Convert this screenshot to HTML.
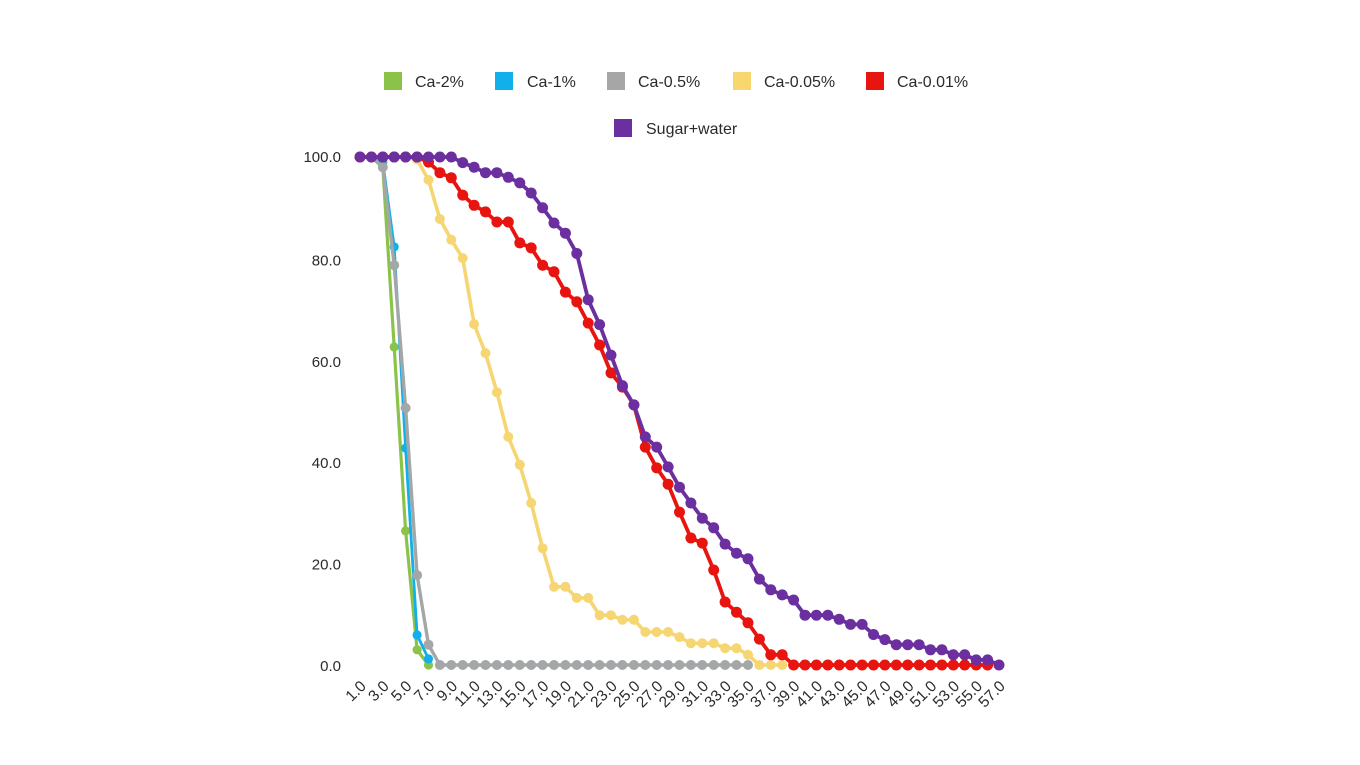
<!DOCTYPE html>
<html>
<head>
<meta charset="utf-8">
<style>
  html,body{margin:0;padding:0;background:#fff;}
  svg{display:block;}
  text{font-family:"Liberation Sans",Arial,sans-serif;fill:#2a2a2a;}
</style>
</head>
<body>
<svg width="1360" height="765" viewBox="0 0 1360 765" xmlns="http://www.w3.org/2000/svg">
  <defs>
    <marker id="mg" markerWidth="12" markerHeight="12" refX="6" refY="6" markerUnits="userSpaceOnUse"><circle cx="6" cy="6" r="4.6" fill="#8bc34a"/></marker>
    <marker id="mb" markerWidth="12" markerHeight="12" refX="6" refY="6" markerUnits="userSpaceOnUse"><circle cx="6" cy="6" r="4.6" fill="#12b0ea"/></marker>
    <marker id="ma" markerWidth="12" markerHeight="12" refX="6" refY="6" markerUnits="userSpaceOnUse"><circle cx="6" cy="6" r="5" fill="#a3a7a8"/></marker>
    <marker id="my" markerWidth="12" markerHeight="12" refX="6" refY="6" markerUnits="userSpaceOnUse"><circle cx="6" cy="6" r="5" fill="#f6d672"/></marker>
    <marker id="mr" markerWidth="12" markerHeight="12" refX="6" refY="6" markerUnits="userSpaceOnUse"><circle cx="6" cy="6" r="5.5" fill="#e8140f"/></marker>
    <marker id="mp" markerWidth="12" markerHeight="12" refX="6" refY="6" markerUnits="userSpaceOnUse"><circle cx="6" cy="6" r="5.5" fill="#6b2fa0"/></marker>
  </defs>

  <!-- Legend -->
  <rect x="384" y="72" width="18" height="18" fill="#8bc34a"/>
  <text x="415" y="87" font-size="16">Ca-2%</text>
  <rect x="495" y="72" width="18" height="18" fill="#12b0ea"/>
  <text x="527" y="87" font-size="16">Ca-1%</text>
  <rect x="607" y="72" width="18" height="18" fill="#a6a6a6"/>
  <text x="638" y="87" font-size="16">Ca-0.5%</text>
  <rect x="733" y="72" width="18" height="18" fill="#f8d86e"/>
  <text x="764" y="87" font-size="16">Ca-0.05%</text>
  <rect x="866" y="72" width="18" height="18" fill="#e8140f"/>
  <text x="897" y="87" font-size="16">Ca-0.01%</text>
  <rect x="614" y="119" width="18" height="18" fill="#6b2fa0"/>
  <text x="646" y="134" font-size="16">Sugar+water</text>

  <!-- Y axis labels -->
  <g font-size="15" text-anchor="end">
    <text x="341" y="162">100.0</text>
    <text x="341" y="265.4">80.0</text>
    <text x="341" y="366.8">60.0</text>
    <text x="341" y="468.2">40.0</text>
    <text x="341" y="569.6">20.0</text>
    <text x="341" y="671">0.0</text>
  </g>

  <!-- X axis labels -->
  <g font-size="15.5" text-anchor="end">
    <text transform="translate(367,687) rotate(-45)">1.0</text>
    <text transform="translate(389.8,687) rotate(-45)">3.0</text>
    <text transform="translate(412.6,687) rotate(-45)">5.0</text>
    <text transform="translate(435.5,687) rotate(-45)">7.0</text>
    <text transform="translate(458.3,687) rotate(-45)">9.0</text>
    <text transform="translate(481.1,687) rotate(-45)">11.0</text>
    <text transform="translate(503.9,687) rotate(-45)">13.0</text>
    <text transform="translate(526.8,687) rotate(-45)">15.0</text>
    <text transform="translate(549.6,687) rotate(-45)">17.0</text>
    <text transform="translate(572.4,687) rotate(-45)">19.0</text>
    <text transform="translate(595.2,687) rotate(-45)">21.0</text>
    <text transform="translate(618,687) rotate(-45)">23.0</text>
    <text transform="translate(640.9,687) rotate(-45)">25.0</text>
    <text transform="translate(663.7,687) rotate(-45)">27.0</text>
    <text transform="translate(686.5,687) rotate(-45)">29.0</text>
    <text transform="translate(709.3,687) rotate(-45)">31.0</text>
    <text transform="translate(732.1,687) rotate(-45)">33.0</text>
    <text transform="translate(755,687) rotate(-45)">35.0</text>
    <text transform="translate(777.8,687) rotate(-45)">37.0</text>
    <text transform="translate(800.6,687) rotate(-45)">39.0</text>
    <text transform="translate(823.4,687) rotate(-45)">41.0</text>
    <text transform="translate(846.2,687) rotate(-45)">43.0</text>
    <text transform="translate(869.1,687) rotate(-45)">45.0</text>
    <text transform="translate(891.9,687) rotate(-45)">47.0</text>
    <text transform="translate(914.7,687) rotate(-45)">49.0</text>
    <text transform="translate(937.5,687) rotate(-45)">51.0</text>
    <text transform="translate(960.3,687) rotate(-45)">53.0</text>
    <text transform="translate(983.2,687) rotate(-45)">55.0</text>
    <text transform="translate(1006,687) rotate(-45)">57.0</text>
  </g>

  <g fill="none" stroke-linejoin="round" stroke-linecap="round">
    <!-- Ca-2% -->
    <polyline stroke="#8bc34a" stroke-width="3.2" marker-start="url(#mg)" marker-mid="url(#mg)" marker-end="url(#mg)"
      points="360,157 371.4,157 382.8,167.2 394.2,347 405.6,530.9 417.1,649.8 428.5,665"/>
    <!-- Ca-1% -->
    <polyline stroke="#12b0ea" stroke-width="2.8" marker-start="url(#mb)" marker-mid="url(#mb)" marker-end="url(#mb)"
      points="360,157 371.4,157 382.8,162 394.2,246.9 405.6,448.1 417.1,635 428.5,658.9"/>
    <!-- Ca-0.5% -->
    <polyline stroke="#a3a7a8" stroke-width="3.4" marker-start="url(#ma)" marker-mid="url(#ma)" marker-end="url(#ma)"
      points="360,157 371.4,157 382.8,167.2 394.2,265.2 405.6,408 417.1,575.1 428.5,644.7 439.9,665 451.3,665 462.7,665 474.1,665 485.5,665 496.9,665 508.3,665 519.8,665 531.2,665 542.6,665 554,665 565.4,665 576.8,665 588.2,665 599.6,665 611,665 622.4,665 633.9,665 645.3,665 656.7,665 668.1,665 679.5,665 690.9,665 702.3,665 713.7,665 725.1,665 736.5,665 748,665"/>
    <!-- Ca-0.05% -->
    <polyline stroke="#f6d672" stroke-width="3.6" marker-start="url(#my)" marker-mid="url(#my)" marker-end="url(#my)"
      points="360,157 371.4,157 382.8,157 394.2,157 405.6,157 417.1,159.5 428.5,179.9 439.9,219 451.3,239.8 462.7,258.1 474.1,324.1 485.5,353.1 496.9,392.2 508.3,436.9 519.8,464.8 531.2,503 542.6,548.2 554,586.8 565.4,586.8 576.8,597.9 588.2,597.9 599.6,615.2 611,615.2 622.4,619.8 633.9,619.8 645.3,632 656.7,632 668.1,632 679.5,637.1 690.9,643.2 702.3,643.2 713.7,643.2 725.1,648.2 736.5,648.2 748,654.8 759.4,665 770.8,665 782.2,665"/>
    <!-- Ca-0.01% -->
    <polyline stroke="#e8140f" stroke-width="3.8" marker-start="url(#mr)" marker-mid="url(#mr)" marker-end="url(#mr)"
      points="360,157 371.4,157 382.8,157 394.2,157 405.6,157 417.1,157 428.5,162.1 439.9,172.7 451.3,177.8 462.7,195.1 474.1,205.3 485.5,211.9 496.9,222 508.3,222 519.8,242.9 531.2,247.9 542.6,265.2 554,271.8 565.4,292.1 576.8,301.8 588.2,323.1 599.6,345 611,372.9 622.4,387.1 633.9,404.9 645.3,447.1 656.7,467.9 668.1,484.2 679.5,512.1 690.9,538 702.3,543.1 713.7,570 725.1,602 736.5,612.2 748,622.8 759.4,639.1 770.8,654.8 782.2,654.8 793.6,665 805,665 816.4,665 827.8,665 839.2,665 850.6,665 862.1,665 873.5,665 884.9,665 896.3,665 907.7,665 919.1,665 930.5,665 941.9,665 953.3,665 964.7,665 976.2,665 987.6,665"/>
    <!-- Sugar+water -->
    <polyline stroke="#6b2fa0" stroke-width="3.8" marker-start="url(#mp)" marker-mid="url(#mp)" marker-end="url(#mp)"
      points="360,157 371.4,157 382.8,157 394.2,157 405.6,157 417.1,157 428.5,157 439.9,157 451.3,157 462.7,162.6 474.1,167.2 485.5,172.7 496.9,172.7 508.3,177.3 519.8,182.9 531.2,193 542.6,207.8 554,223 565.4,233.2 576.8,253.5 588.2,299.7 599.6,324.6 611,355.1 622.4,385.6 633.9,404.9 645.3,436.9 656.7,447.1 668.1,466.9 679.5,487.2 690.9,503 702.3,518.2 713.7,527.8 725.1,544.1 736.5,553.2 748,558.8 759.4,579.1 770.8,589.8 782.2,594.9 793.6,600 805,615.2 816.4,615.2 827.8,615.2 839.2,619.3 850.6,624.4 862.1,624.4 873.5,634.5 884.9,639.6 896.3,644.7 907.7,644.7 919.1,644.7 930.5,649.8 941.9,649.8 953.3,654.8 964.7,654.8 976.2,659.9 987.6,659.9 999,665"/>
  </g>
</svg>
</body>
</html>
